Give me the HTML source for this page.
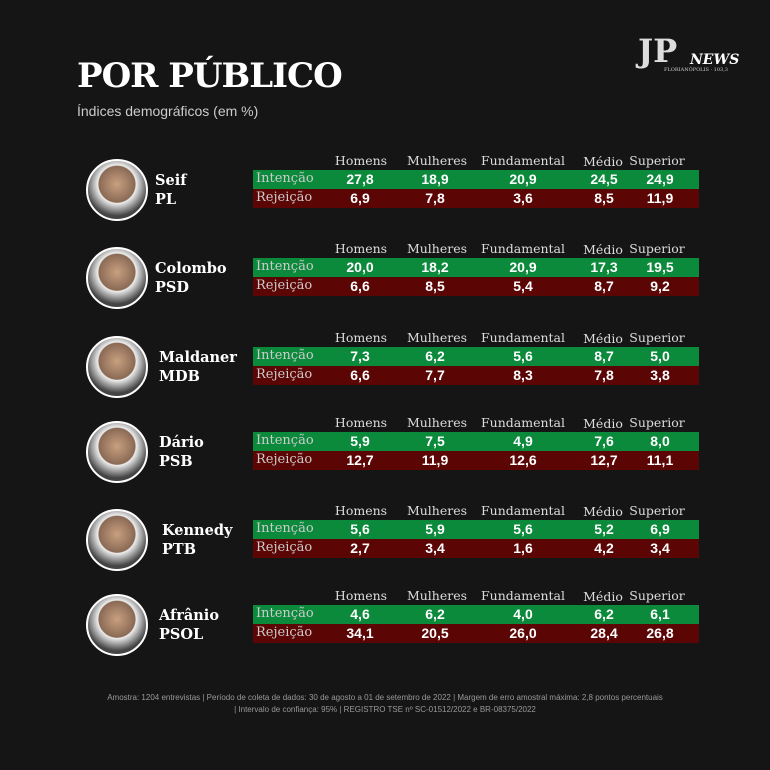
<!DOCTYPE html><html><head><meta charset="utf-8"><style>
body{margin:0;width:770px;height:770px;background:#151515;position:relative;overflow:hidden;font-family:"DejaVu Serif","Liberation Serif",serif;color:#fff}
.a{position:absolute;white-space:nowrap}
.h{font-family:"DejaVu Serif",serif;font-size:12.5px;color:#ddd;transform:translateX(-50%)}
.bar{position:absolute;left:253px;width:446px;height:19px}
.v{position:absolute;font-family:"Liberation Sans",sans-serif;font-weight:bold;font-size:14px;transform:translateX(-50%);top:1px}
.l{position:absolute;left:3px;top:1px;font-size:13px;color:#ccc}
.ph{position:absolute;width:58px;height:58px;border-radius:50%;background:radial-gradient(circle at 50% 40%,#c9a080 0,#8a6a55 40%,#eee 42%,#444 70%);border:2px solid #fff}
.nm{font-weight:bold;font-size:14.5px;line-height:19px}
</style></head><body>
<div class="a" style="left:77px;top:56px;font-size:34px;font-weight:bold;letter-spacing:-1px">POR PÚBLICO</div>
<div class="a" style="left:77px;top:103px;font-size:14px;color:#ccc;font-family:'Liberation Sans',sans-serif">Índices demográficos (em %)</div>
<div class="a" style="left:638px;top:32px;font-size:32px;font-weight:bold;color:#ddd">JP</div>
<div class="a" style="left:690px;top:52px;font-size:14px;font-weight:bold;font-style:italic">NEWS</div>
<div class="a" style="left:664px;top:67px;font-size:5px;color:#ccc">FLORIANÓPOLIS · 103,3</div>
<div id="c"></div>
<div class="a" style="left:0;width:770px;text-align:center;top:692px;font-size:8px;line-height:12px;color:#999;font-family:'Liberation Sans',sans-serif">Amostra: 1204 entrevistas | Período de coleta de dados: 30 de agosto a 01 de setembro de 2022 | Margem de erro amostral máxima: 2,8 pontos percentuais<br>| Intervalo de confiança: 95% | REGISTRO TSE nº SC-01512/2022 e BR-08375/2022</div>
<script>
const d=[["Seif","PL",170,["27,8","18,9","20,9","24,5","24,9"],["6,9","7,8","3,6","8,5","11,9"]],
["Colombo","PSD",258,["20,0","18,2","20,9","17,3","19,5"],["6,6","8,5","5,4","8,7","9,2"]],
["Maldaner","MDB",347,["7,3","6,2","5,6","8,7","5,0"],["6,6","7,7","8,3","7,8","3,8"]],
["Dário","PSB",432,["5,9","7,5","4,9","7,6","8,0"],["12,7","11,9","12,6","12,7","11,1"]],
["Kennedy","PTB",520,["5,6","5,9","5,6","5,2","6,9"],["2,7","3,4","1,6","4,2","3,4"]],
["Afrânio","PSOL",605,["4,6","6,2","4,0","6,2","6,1"],["34,1","20,5","26,0","28,4","26,8"]]];
const hx=[361,437,523,603,657],vx=[360,435,523,604,660],hs=["Homens","Mulheres","Fundamental","Médio","Superior"];
let h="";
d.forEach(r=>{let y=r[2];
hs.forEach((t,i)=>h+=`<div class="a h" style="left:${hx[i]}px;top:${y-17+(i==3?1:0)}px">${t}</div>`);
h+=`<div class="bar" style="top:${y}px;background:#0b8a3b"><span class="l">Intenção</span>${r[3].map((v,i)=>`<span class="v" style="left:${vx[i]-253}px">${v}</span>`).join("")}</div>`;
h+=`<div class="bar" style="top:${y+19}px;background:#5c0505"><span class="l">Rejeição</span>${r[4].map((v,i)=>`<span class="v" style="left:${vx[i]-253}px">${v}</span>`).join("")}</div>`;
h+=`<div class="ph" style="left:86px;top:${y-11}px"></div>`;
h+=`<div class="a nm" style="left:${r[0]=="Maldaner"||r[0]=="Dário"||r[0]=="Afrânio"?159:(r[0]=="Kennedy"?162:155)}px;top:${y+1}px">${r[0]}<br>${r[1]}</div>`;});
document.getElementById("c").innerHTML=h;
</script></body></html>
